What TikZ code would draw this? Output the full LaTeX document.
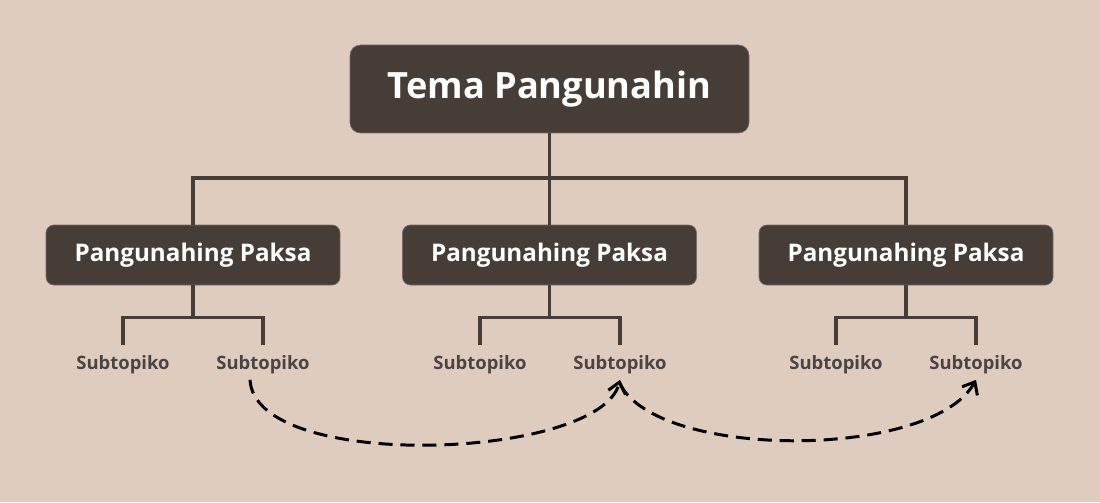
\documentclass[tikz,border=0pt]{standalone}
\usepackage{fontspec}
\setmainfont{Open Sans}
\usetikzlibrary{arrows.meta}
\definecolor{bgbeige}{HTML}{DECCBE}
\definecolor{boxbrown}{HTML}{453D36}
\definecolor{subgray}{HTML}{4A4542}
\begin{document}
\begin{tikzpicture}[every node/.style={font=\bfseries},
  maintopic/.style={draw=boxbrown!75!white,fill=boxbrown,text=white,rounded corners=6pt,minimum width=7.98cm,minimum height=1.76cm,font=\fontsize{20.6}{25}\selectfont\bfseries},
  subtopic/.style={draw=boxbrown!75!white,fill=boxbrown,text=white,rounded corners=4.5pt,minimum width=5.88cm,minimum height=1.2cm,font=\fontsize{13.8}{17}\selectfont\bfseries},
  leaf/.style={text=subgray,inner sep=3pt,font=\fontsize{10.5}{12}\selectfont\bfseries},
  branch/.style={draw=boxbrown,line width=1.9pt},
  crosslink/.style={draw=black,line width=1.7pt,dash pattern=on 8pt off 4.5pt,-{Straight Barb[length=6pt,width=10pt]}}]
% background
\fill[bgbeige] (0,0) rectangle (22,10.04);
\useasboundingbox (0,0) rectangle (22,10.04);
% topics
\node[maintopic] (main) at (10.99,8.26) {Tema Pangunahin};
\node[subtopic] (p1) at (3.86,4.94) {Pangunahing Paksa};
\node[subtopic] (p2) at (10.99,4.94) {Pangunahing Paksa};
\node[subtopic] (p3) at (18.12,4.94) {Pangunahing Paksa};
% leaves
\node[leaf] (s11) at (2.46,2.74) {Subtopiko};
\node[leaf] (s12) at (5.26,2.74) {Subtopiko};
\node[leaf] (s21) at (9.60,2.74) {Subtopiko};
\node[leaf] (s22) at (12.40,2.74) {Subtopiko};
\node[leaf] (s31) at (16.72,2.74) {Subtopiko};
\node[leaf] (s32) at (19.52,2.74) {Subtopiko};
% tree lines
\draw[branch] (main.south) -- (10.99,6.48);
\draw[branch] (p1.north) |- (10.99,6.48) -| (p3.north);
\draw[branch] (10.99,6.48) -- (p2.north);
\foreach \p/\a/\b in {p1/s11/s12,p2/s21/s22,p3/s31/s32} {
  \draw[branch] (\p.south) -- ++(0,-0.64) coordinate (\p bus);
  \draw[branch] ([yshift=0.1cm]\a.north) |- (\p bus) -| ([yshift=0.1cm]\b.north);
}
% links
\draw[crosslink] ([xshift=-0.26cm]s12.south) .. controls +(0.1,-1.86) and +(-0.4,-1.6) .. (s22.south);
\draw[crosslink] ([yshift=-0.08cm]s22.south) .. controls +(0.76,-1.52) and +(-0.9,-1.6) .. (s32.south);
\end{tikzpicture}
\end{document}
